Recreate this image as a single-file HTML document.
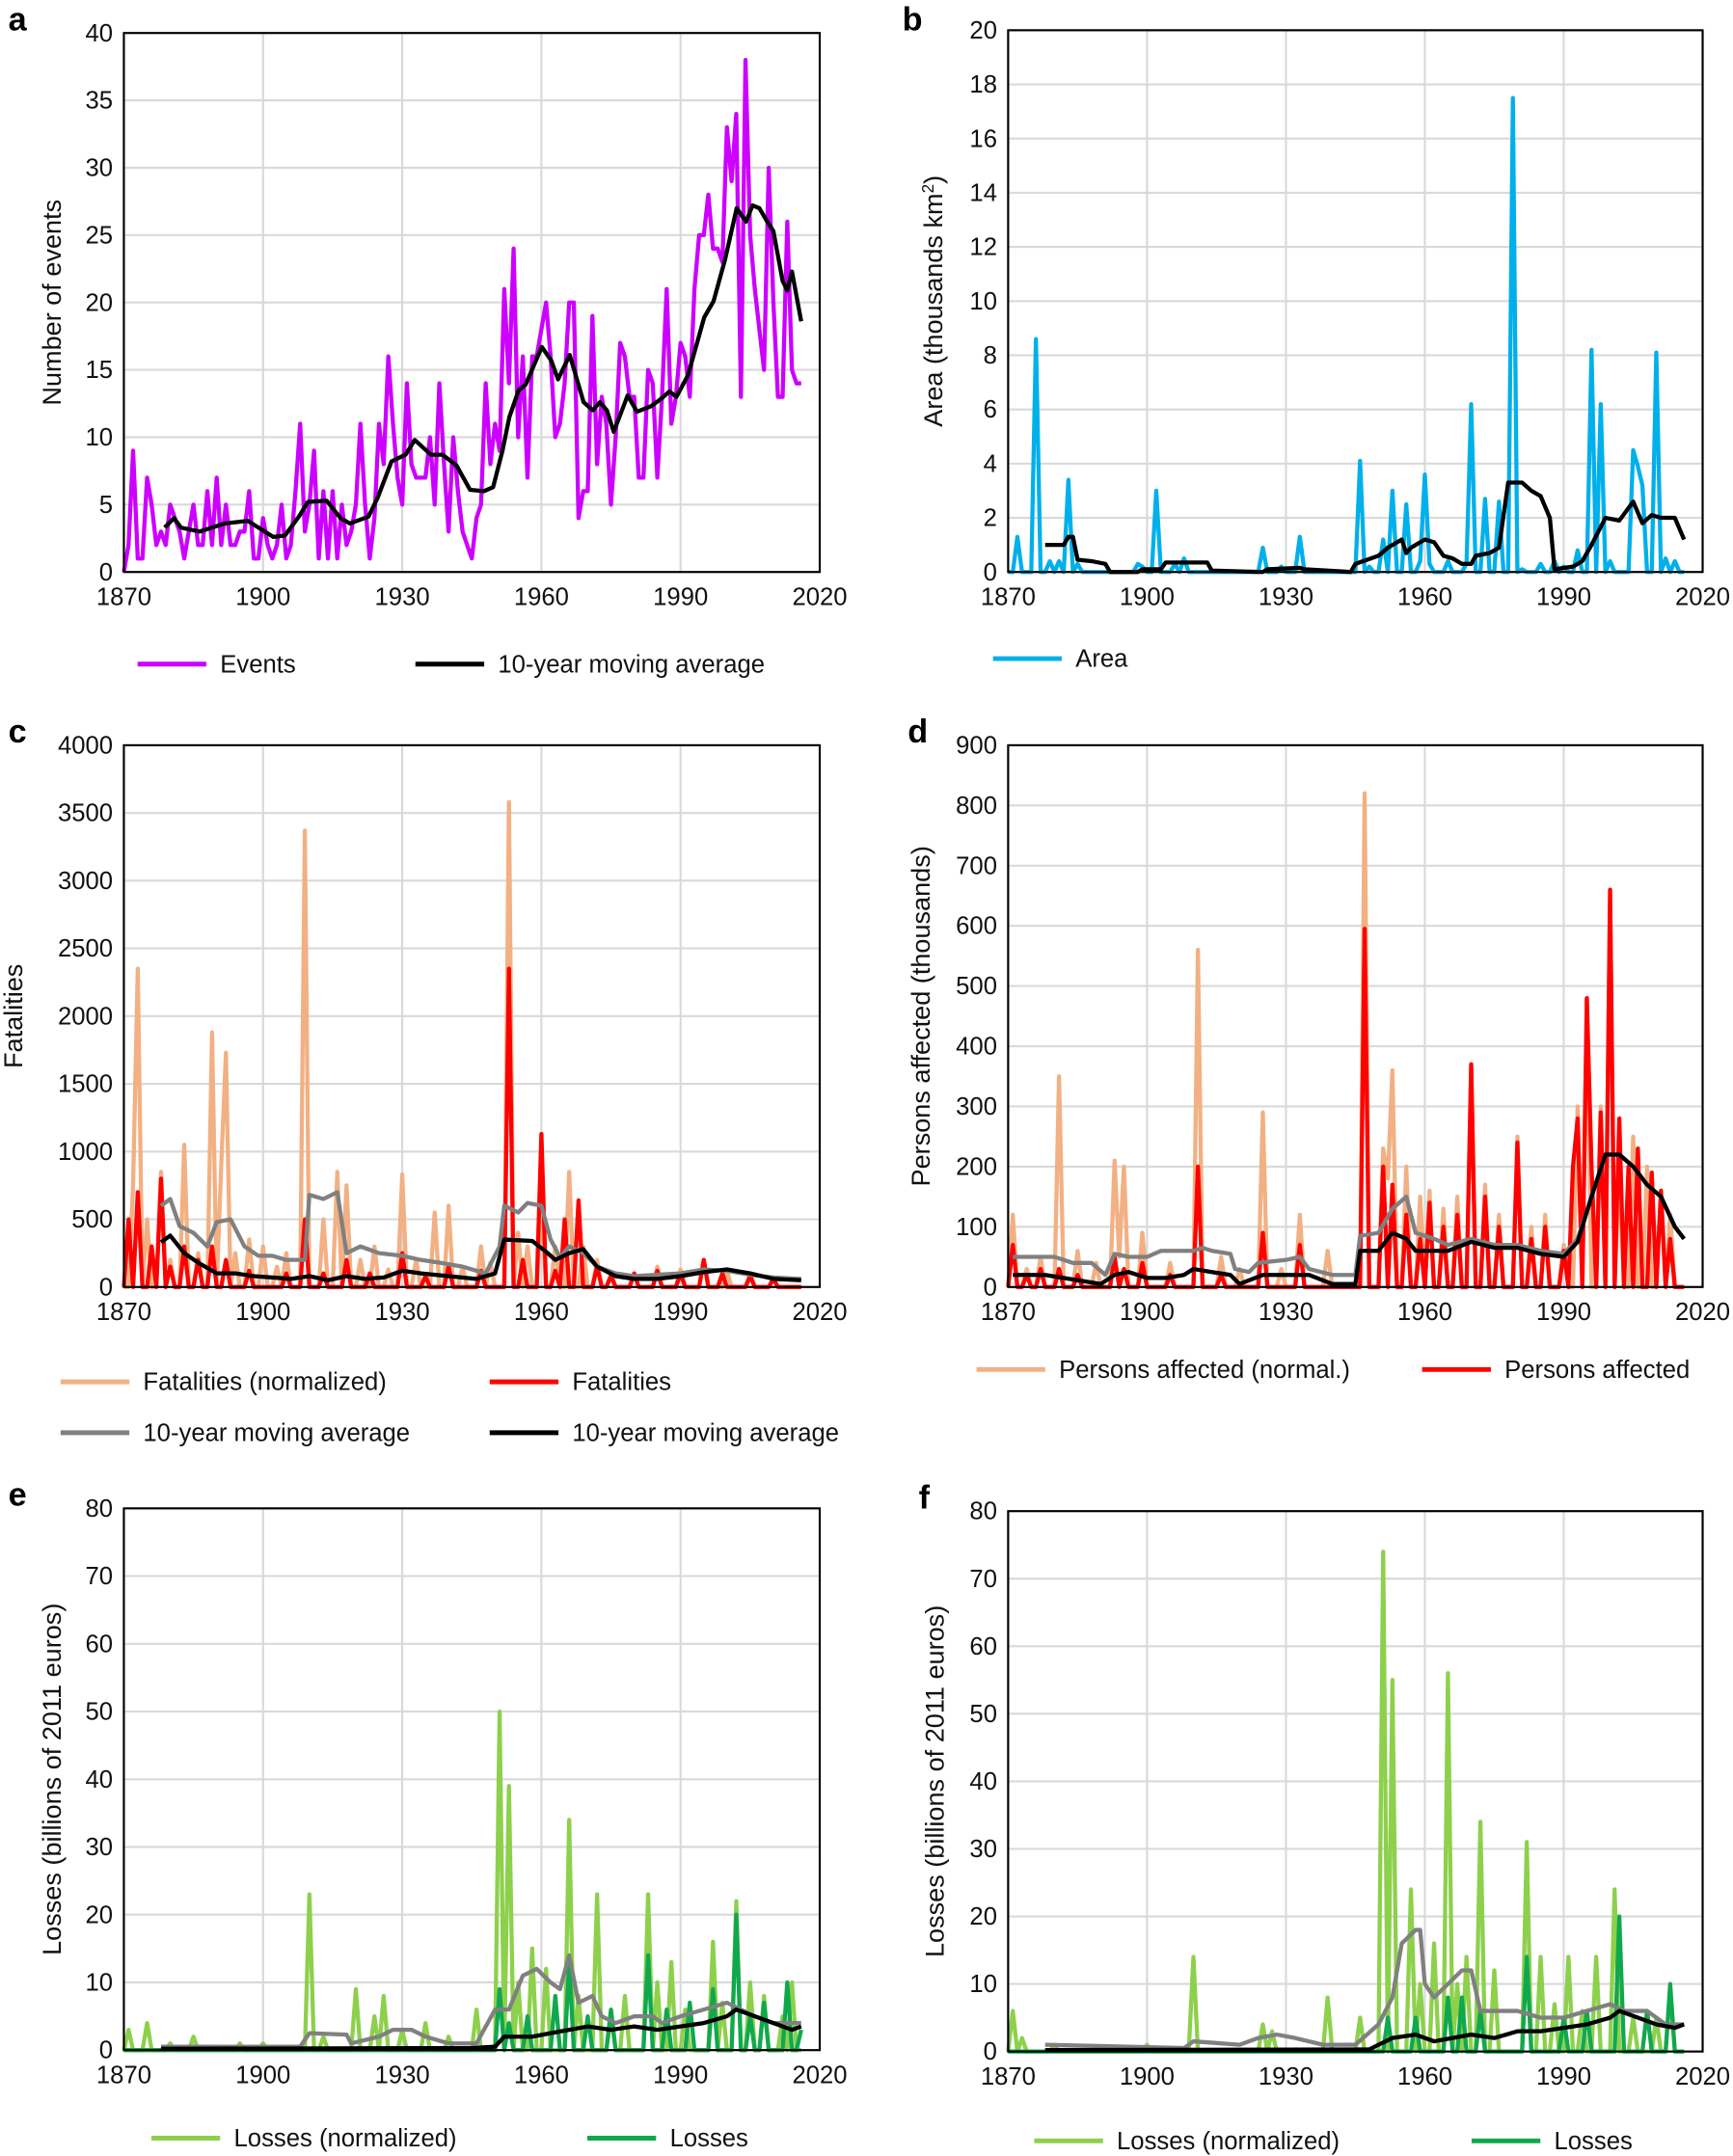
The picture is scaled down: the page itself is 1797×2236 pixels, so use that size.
<!DOCTYPE html>
<html><head><meta charset="utf-8">
<style>
html,body{margin:0;padding:0;background:#fff;}
svg{display:block;font-family:"Liberation Sans",Arial,sans-serif;}
</style></head>
<body>
<svg id="chart" width="1797" height="2236" viewBox="0 0 1260 1568" xmlns="http://www.w3.org/2000/svg"></svg>
<script>
// ---------- DATA ----------
const eventsStart = 1870;
const eventsVals = [0,2,9,1,1,7,5,2,3,2,5,4,3,1,3,5,2,2,6,2,7,2,5,2,2,3,3,6,1,1,4,2,1,2,5,1,2,6,11,3,5,9,1,6,1,6,1,5,2,3,5,11,5,1,4,11,8,16,11,7,5,14,8,7,7,7,10,5,14,8,3,10,6,3,2,1,4,5,14,8,11,9,21,14,24,10,16,7,16,16,18,20,16,10,11,14,20,20,4,6,6,19,8,13,11,5,10,17,16,13,13,7,7,15,14,7,13,21,11,13,17,16,13,21,25,25,28,24,24,23,33,29,34,13,38,25,21,18,15,30,20,13,13,26,15,14,14];
const eventsMA = [[1878.8,3.3],[1880.8,4.0],[1882.3,3.3],[1886.3,3.0],[1891.8,3.6],[1896.7,3.8],[1902.2,2.6],[1904.7,2.7],[1907.7,4.1],[1909.7,5.2],[1913.7,5.3],[1916.7,4.0],[1918.7,3.6],[1922.7,4.1],[1924.7,5.5],[1927.7,8.2],[1930.7,8.7],[1932.7,9.8],[1936.2,8.7],[1938.7,8.7],[1941.7,7.9],[1944.6,6.1],[1947.6,6.0],[1949.6,6.3],[1951.6,9.0],[1953.1,11.5],[1955.1,13.5],[1956.6,13.9],[1960.1,16.7],[1962.1,15.7],[1963.6,14.3],[1966.1,16.1],[1969.1,12.6],[1971.1,12.0],[1972.6,12.6],[1974.1,12.0],[1975.6,10.4],[1978.6,13.1],[1980.6,11.9],[1983.6,12.3],[1985.6,12.8],[1987.6,13.4],[1989.1,13.0],[1991.6,14.6],[1995.1,18.9],[1997.1,20.1],[1999.6,23.2],[2002.1,27.0],[2004.1,26.0],[2005.5,27.2],[2007.0,27.0],[2008.5,26.1],[2010.0,25.3],[2012.0,21.6],[2013.0,20.9],[2014.0,22.3],[2016.0,18.6]];

const areaSpikes = [[1872,1.3],[1876,8.6],[1879,0.4],[1881,0.4],[1883,3.4],[1885,0.3],[1898,0.3],[1899,0.2],[1902,3],[1906,0.3],[1908,0.5],[1925,0.9],[1929,0.2],[1933,1.3],[1946,4.1],[1948,0.2],[1951,1.2],[1953,3],[1956,2.5],[1959,0.4],[1960,3.6],[1961,0.3],[1965,0.4],[1969,0.3],[1970,6.2],[1973,2.7],[1976,2.6],[1979,17.5],[1981,0.1],[1985,0.3],[1988,0.4],[1990,0.2],[1993,0.8],[1996,8.2],[1998,6.2],[2000,0.4],[2005,4.5],[2006,3.9],[2007,3.2],[2010,8.1],[2012,0.5],[2014,0.4]];
const areaMA = [[1878,1],[1882,1],[1883,1.3],[1884,1.3],[1885,0.45],[1888,0.4],[1891,0.3],[1892,0],[1898,0],[1899,0.1],[1903,0.1],[1904,0.35],[1913,0.35],[1914,0.05],[1925,0],[1926,0.1],[1933,0.15],[1934,0.1],[1939,0.05],[1944,0],[1945,0.3],[1950,0.6],[1952,0.9],[1955,1.2],[1956,0.7],[1957,0.9],[1960,1.2],[1962,1.1],[1964,0.6],[1966,0.5],[1968,0.3],[1970,0.3],[1971,0.6],[1974,0.7],[1976,0.9],[1978,3.3],[1981,3.3],[1983,3.0],[1985,2.8],[1987,2.0],[1988,0.1],[1992,0.2],[1994,0.4],[1996,1.0],[1999,2.0],[2002,1.9],[2005,2.6],[2007,1.8],[2009,2.1],[2011,2.0],[2014,2.0],[2016,1.2]];

const fatNormSpikes = [[1872,750],[1873,2350],[1875,500],[1878,850],[1880,200],[1883,1050],[1886,250],[1889,1880],[1891,900],[1892,1730],[1894,250],[1897,350],[1900,300],[1903,150],[1905,250],[1909,3370],[1913,500],[1916,850],[1918,750],[1921,200],[1924,300],[1927,130],[1930,830],[1933,200],[1937,550],[1940,600],[1943,150],[1947,300],[1949,180],[1953,3580],[1955,400],[1957,300],[1960,600],[1963,300],[1966,850],[1969,300],[1972,200],[1975,100],[1980,100],[1985,150],[1990,130],[1995,200],[2000,120],[2005,100],[2010,60]];
const fatSpikes = [[1871,500],[1873,700],[1876,300],[1878,800],[1880,150],[1883,300],[1886,200],[1889,300],[1892,200],[1897,120],[1905,100],[1909,500],[1913,100],[1918,200],[1923,100],[1930,250],[1935,80],[1940,150],[1947,120],[1953,2350],[1956,200],[1960,1130],[1963,120],[1965,500],[1968,640],[1972,150],[1975,80],[1980,100],[1985,120],[1990,100],[1995,200],[1999,100],[2005,80],[2010,60]];
const fatNormMA = [[1878,600],[1880,650],[1882,450],[1885,400],[1888,300],[1890,480],[1893,500],[1896,300],[1899,230],[1902,230],[1905,200],[1909,200],[1910,680],[1913,650],[1916,700],[1918,250],[1921,300],[1925,250],[1930,230],[1934,200],[1938,180],[1943,150],[1948,100],[1951,300],[1952,600],[1955,550],[1957,620],[1960,600],[1962,350],[1964,220],[1966,300],[1969,250],[1972,150],[1976,100],[1980,80],[1985,90],[1990,100],[1995,130],[2000,120],[2005,90],[2010,70],[2016,60]];
const fatMA = [[1878,330],[1880,380],[1883,250],[1886,180],[1890,100],[1894,100],[1898,80],[1902,70],[1906,60],[1910,80],[1914,50],[1918,80],[1922,60],[1926,70],[1930,120],[1934,100],[1940,80],[1946,60],[1950,100],[1952,350],[1958,340],[1961,260],[1963,200],[1966,250],[1969,280],[1972,150],[1976,80],[1980,60],[1985,60],[1990,80],[1995,110],[2000,130],[2005,100],[2010,60],[2016,50]];

const persNormSpikes = [[1871,120],[1874,30],[1877,50],[1881,350],[1885,60],[1889,40],[1893,210],[1894,50],[1895,200],[1899,90],[1905,40],[1911,560],[1916,50],[1920,30],[1925,290],[1929,30],[1933,120],[1939,60],[1947,820],[1951,230],[1952,180],[1953,360],[1956,200],[1959,150],[1961,160],[1964,130],[1967,150],[1970,370],[1973,170],[1976,120],[1980,250],[1983,100],[1986,120],[1990,70],[1993,300],[1995,480],[1998,300],[2000,660],[2002,200],[2005,250],[2008,200],[2011,160],[2013,120]];
const persSpikes = [[1871,70],[1874,20],[1877,30],[1881,30],[1885,20],[1893,50],[1895,30],[1899,40],[1905,20],[1911,200],[1916,20],[1925,90],[1933,70],[1947,595],[1951,200],[1953,170],[1956,120],[1959,80],[1961,140],[1964,100],[1967,120],[1970,370],[1973,150],[1976,100],[1980,240],[1983,80],[1986,100],[1990,60],[1992,200],[1993,280],[1995,480],[1996,200],[1998,290],[2000,660],[2002,280],[2004,200],[2006,230],[2009,190],[2011,160],[2013,80]];
const persNormMA = [[1871,50],[1880,50],[1884,40],[1888,40],[1891,20],[1893,55],[1896,50],[1900,50],[1903,60],[1910,60],[1912,65],[1914,60],[1918,55],[1919,30],[1922,25],[1924,40],[1930,45],[1933,50],[1935,30],[1940,20],[1945,20],[1946,85],[1950,90],[1953,130],[1956,150],[1958,90],[1962,80],[1965,70],[1970,80],[1975,70],[1980,70],[1985,60],[1990,55],[1993,80],[1996,150],[1999,220],[2002,220],[2005,200],[2008,170],[2011,150],[2014,100],[2016,80]];
const persMA = [[1871,20],[1878,20],[1882,15],[1886,10],[1890,5],[1893,20],[1896,25],[1900,15],[1904,15],[1908,20],[1910,30],[1914,25],[1918,20],[1920,5],[1925,20],[1935,20],[1940,5],[1945,5],[1946,60],[1950,60],[1953,90],[1956,80],[1958,60],[1965,60],[1970,75],[1975,65],[1980,65],[1985,55],[1990,50],[1993,75],[1996,150],[1999,220],[2002,220],[2005,200],[2008,170],[2011,150],[2014,100],[2016,80]];

const lossNormSpikesE = [[1871,3],[1875,4],[1880,1],[1885,2],[1895,1],[1900,1],[1910,23],[1913,2],[1920,9],[1924,5],[1926,8],[1930,3],[1935,4],[1940,2],[1946,6],[1951,50],[1953,39],[1955,10],[1958,15],[1961,12],[1966,34],[1968,8],[1972,23],[1975,5],[1978,8],[1983,23],[1985,10],[1988,13],[1991,6],[1997,16],[1999,7],[2002,22],[2005,10],[2008,8],[2012,5],[2014,10]];
const lossSpikesE = [[1951,9],[1953,4],[1957,5],[1963,8],[1966,13],[1970,5],[1975,6],[1983,14],[1987,6],[1992,7],[1997,9],[2002,20],[2005,5],[2008,7],[2013,10],[2016,3]];
const lossNormMAE = [[1878,0.5],[1908,0.5],[1910,2.5],[1918,2.3],[1919,1],[1925,2],[1928,3],[1932,3],[1935,2],[1940,1],[1946,1],[1950,6],[1953,6],[1956,11],[1959,12],[1962,10],[1964,9],[1966,14],[1968,7],[1971,8],[1973,5],[1976,4],[1980,5],[1984,5],[1986,4],[1990,5],[1995,6],[2000,7],[2003,6],[2006,5],[2010,4],[2016,4]];
const lossMAE = [[1878,0.2],[1945,0.3],[1950,0.5],[1952,2],[1958,2],[1962,2.5],[1966,3],[1970,3.5],[1975,3],[1980,3.5],[1985,3],[1990,3.5],[1995,4],[2000,5],[2002,6],[2006,5],[2010,4],[2014,3],[2016,3.5]];

const lossNormSpikesF = [[1871,6],[1873,2],[1880,1],[1900,1],[1910,14],[1925,4],[1927,3],[1939,8],[1946,5],[1951,74],[1953,55],[1957,24],[1959,10],[1962,16],[1965,56],[1967,10],[1969,14],[1972,34],[1975,12],[1982,31],[1985,14],[1988,7],[1991,14],[1994,6],[1997,14],[2001,24],[2005,5],[2010,5],[2013,9]];
const lossSpikesF = [[1952,5],[1958,5],[1965,8],[1968,8],[1972,6],[1982,14],[1990,5],[1995,6],[2002,20],[2008,6],[2013,10]];
const lossNormMAF = [[1878,1],[1908,0.5],[1910,1.5],[1920,1],[1924,2],[1928,2.5],[1932,2],[1938,1],[1945,1],[1950,4],[1953,8],[1955,16],[1958,18],[1959,18],[1960,10],[1962,8],[1965,10],[1968,12],[1970,12],[1972,6],[1975,6],[1980,6],[1985,5],[1990,5],[1995,6],[2000,7],[2003,6],[2008,6],[2012,4],[2016,4]];
const lossMAF = [[1878,0.2],[1948,0.3],[1950,1],[1953,2],[1958,2.5],[1962,1.5],[1966,2],[1970,2.5],[1975,2],[1980,3],[1985,3],[1990,3.5],[1995,4],[2000,5],[2002,6],[2006,5],[2010,4],[2014,3.5],[2016,4]];

const xTicks = [1870,1900,1930,1960,1990,2020];
const yTicksA = [0,5,10,15,20,25,30,35,40];
const yTicksB = [0,2,4,6,8,10,12,14,16,18,20];
const yTicksC = [0,500,1000,1500,2000,2500,3000,3500,4000];
const yTicksD = [0,100,200,300,400,500,600,700,800,900];
const yTicksEF = [0,10,20,30,40,50,60,70,80];

// ---------- HELPERS ----------
const NS = "http://www.w3.org/2000/svg";
const svg = document.getElementById('chart');
function mk(tag, attrs, parent){
  const e = document.createElementNS(NS, tag);
  for (const k in attrs) e.setAttribute(k, attrs[k]);
  (parent||svg).appendChild(e);
  return e;
}
function dense(start, vals){ return vals.map((v,i)=>[start+i, v]); }
function spikes(list, y0, y1){
  const m = new Map(list.map(p=>[p[0],p[1]]));
  const out = [];
  for (let y=y0; y<=y1; y++) out.push([y, m.has(y)?m.get(y):0]);
  return out;
}

function panel(cfg){
  const g = mk('g', {});
  
  
  const {L,R,T,B,ymax} = cfg;
  const xs = y => L + (y-1870)/(150)*(R-L);
  const ys = v => B - v/ymax*(B-T);
  cfg.yTicks.forEach(t=>{
    const l = mk('line',{x1:L,x2:R,y1:ys(t),y2:ys(t),stroke:'#d9d9d9','stroke-width':1.5},g);
    
    
    const tx = mk('text',{x:L-8,y:ys(t)+6,'text-anchor':'end','font-size':18,fill:'#111'},g);
    
    
    tx.textContent = t;
  });
  xTicks.forEach(t=>{
    const l = mk('line',{x1:xs(t),x2:xs(t),y1:T,y2:B,stroke:'#d9d9d9','stroke-width':1.5},g);
    
    
    const tx = mk('text',{x:xs(t),y:B+24,'text-anchor':'middle','font-size':18,fill:'#111'},g);
    
    
    tx.textContent = t;
  });
  cfg.series.forEach(s=>{
    const p = mk('polyline',{points:s.pts.map(q=>xs(q[0]).toFixed(1)+','+ys(q[1]).toFixed(1)).join(' '),fill:'none',stroke:s.color,'stroke-width':s.w||3,'stroke-linejoin':'round'},g);
    
    
  });
  const fr = mk('rect',{x:L,y:T,width:R-L,height:B-T,fill:'none',stroke:'#000','stroke-width':1.5},g);
  
  
  const lt = mk('text',{x:cfg.lx,y:cfg.ly,'font-size':24,'font-weight':'bold',fill:'#000'},g);
  
  
  lt.textContent = cfg.letter;
  const yt = mk('text',{x:0,y:0,'text-anchor':'middle','font-size':19,fill:'#111',transform:`translate(${cfg.tx},${(T+B)/2}) rotate(-90)`},g);
  
  
  yt.innerHTML = cfg.title;
  cfg.legend.forEach(e=>{
    const lg = mk('g',{},g);
    
    
    mk('line',{x1:e.x,x2:e.x+50,y1:e.y,y2:e.y,stroke:e.color,'stroke-width':3.5},lg);
    const t = mk('text',{x:e.x+60,y:e.y+6,'font-size':18,fill:'#111'},lg);
    t.textContent = e.label;
  });
}

const PINK='#cc00ff', BLUE='#00b0ea', PEACH='#f2b083', RED='#ff0000', GRAY='#808080', LG='#8dd04c', DG='#10a84e';

panel({name:'panel-a-events',letter:'a',lx:6,ly:22,L:90,R:596,T:24,B:416,ymax:40,yTicks:yTicksA,tx:44,
  title:'Number of events',
  series:[{name:'events-line',color:PINK,pts:dense(eventsStart,eventsVals)},
          {name:'events-moving-average',color:'#000',pts:eventsMA}],
  legend:[{x:100,y:483,color:PINK,label:'Events'},{x:302,y:483,color:'#000',label:'10-year moving average'}]});

panel({name:'panel-b-area',letter:'b',lx:656,ly:22,L:733,R:1238,T:22,B:416,ymax:20,yTicks:yTicksB,tx:685,
  title:'Area (thousands km<tspan baseline-shift="super" font-size="12">2</tspan>)',
  series:[{name:'area-line',color:BLUE,pts:spikes(areaSpikes,1870,2016)},
          {name:'area-moving-average',color:'#000',pts:areaMA}],
  legend:[{x:722,y:479,color:BLUE,label:'Area'}]});

panel({name:'panel-c-fatalities',letter:'c',lx:6,ly:540,L:90,R:596,T:542,B:936,ymax:4000,yTicks:yTicksC,tx:16,
  title:'Fatalities',
  series:[{name:'fatalities-normalized-line',color:PEACH,pts:spikes(fatNormSpikes,1870,2016)},
          {name:'fatalities-line',color:RED,pts:spikes(fatSpikes,1870,2016)},
          {name:'fatalities-normalized-ma',color:GRAY,pts:fatNormMA},
          {name:'fatalities-ma',color:'#000',pts:fatMA}],
  legend:[{x:44,y:1005,color:PEACH,label:'Fatalities (normalized)'},{x:356,y:1005,color:RED,label:'Fatalities'},
          {x:44,y:1042,color:GRAY,label:'10-year moving average'},{x:356,y:1042,color:'#000',label:'10-year moving average'}]});

panel({name:'panel-d-persons-affected',letter:'d',lx:660,ly:540,L:733,R:1238,T:542,B:936,ymax:900,yTicks:yTicksD,tx:676,
  title:'Persons affected (thousands)',
  series:[{name:'persons-normalized-line',color:PEACH,pts:spikes(persNormSpikes,1870,2016)},
          {name:'persons-line',color:RED,pts:spikes(persSpikes,1870,2016)},
          {name:'persons-normalized-ma',color:GRAY,pts:persNormMA},
          {name:'persons-ma',color:'#000',pts:persMA}],
  legend:[{x:710,y:996,color:PEACH,label:'Persons affected (normal.)'},{x:1034,y:996,color:RED,label:'Persons affected'}]});

panel({name:'panel-e-losses',letter:'e',lx:6,ly:1095,L:90,R:596,T:1097,B:1491,ymax:80,yTicks:yTicksEF,tx:44,
  title:'Losses (billions of 2011 euros)',
  series:[{name:'losses-normalized-line',color:LG,pts:spikes(lossNormSpikesE,1870,2016)},
          {name:'losses-line',color:DG,pts:spikes(lossSpikesE,1870,2016)},
          {name:'losses-normalized-ma',color:GRAY,pts:lossNormMAE},
          {name:'losses-ma',color:'#000',pts:lossMAE}],
  legend:[{x:110,y:1555,color:LG,label:'Losses (normalized)'},{x:427,y:1555,color:DG,label:'Losses'}]});

panel({name:'panel-f-losses',letter:'f',lx:668,ly:1097,L:733,R:1238,T:1099,B:1492,ymax:80,yTicks:yTicksEF,tx:686,
  title:'Losses (billions of 2011 euros)',
  series:[{name:'losses-normalized-line',color:LG,pts:spikes(lossNormSpikesF,1870,2016)},
          {name:'losses-line',color:DG,pts:spikes(lossSpikesF,1870,2016)},
          {name:'losses-normalized-ma',color:GRAY,pts:lossNormMAF},
          {name:'losses-ma',color:'#000',pts:lossMAF}],
  legend:[{x:752,y:1557,color:LG,label:'Losses (normalized)'},{x:1070,y:1557,color:DG,label:'Losses'}]});
</script>
</body></html>
